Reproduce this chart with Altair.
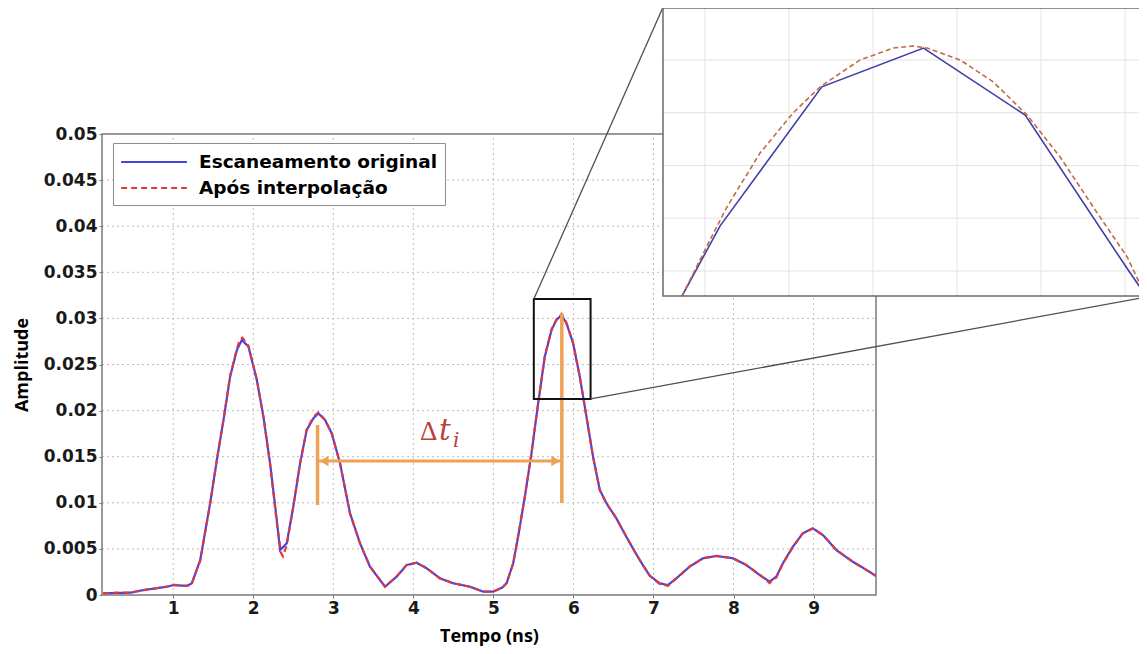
import altair as alt
import pandas as pd

# ---------------- data ----------------
series_names = ["Escaneamento original", "Após interpolação"]

t_orig = [0.126, 0.463, 0.63, 0.921, 1.004, 1.17, 1.233, 1.337, 1.461, 1.545, 1.628, 1.711,
          1.795, 1.857, 1.94, 2.044, 2.127, 2.21, 2.294, 2.335, 2.418, 2.50, 2.585, 2.668,
          2.751, 2.813, 2.897, 2.98, 3.084, 3.209, 3.334, 3.458, 3.646, 3.791, 3.916, 4.04,
          4.166, 4.332, 4.498, 4.706, 4.873, 4.997, 5.11, 5.165, 5.247, 5.309, 5.393, 5.476,
          5.559, 5.642, 5.726, 5.788, 5.851, 5.913, 5.996, 6.079, 6.163, 6.245, 6.329, 6.413,
          6.537, 6.662, 6.78, 6.87, 6.953, 7.077, 7.181, 7.286, 7.452, 7.618, 7.785, 7.993,
          8.16, 8.326, 8.45, 8.534, 8.617, 8.741, 8.866, 8.991, 9.116, 9.283, 9.49, 9.699, 9.775]
a_orig = [0.0002, 0.00025, 0.00054, 0.0009, 0.00108, 0.00098, 0.00127, 0.0038, 0.00994, 0.01464,
          0.01898, 0.02368, 0.02657, 0.02766, 0.02693, 0.02332, 0.01934, 0.01428, 0.00813, 0.00488,
          0.0056, 0.00958, 0.01428, 0.0179, 0.01916, 0.0197, 0.01898, 0.01754, 0.01428, 0.00886,
          0.0056, 0.00307, 0.0009, 0.00199, 0.00325, 0.0035, 0.0029, 0.00181, 0.00127, 0.0009,
          0.00036, 0.00036, 0.0008, 0.00127, 0.00344, 0.00633, 0.01066, 0.01537, 0.02079, 0.02585,
          0.02874, 0.02983, 0.03037, 0.02947, 0.0273, 0.02368, 0.01934, 0.015, 0.01139, 0.00995,
          0.0083, 0.0063, 0.0045, 0.0032, 0.0021, 0.00127, 0.00108, 0.00181, 0.00307, 0.00398,
          0.00423, 0.00398, 0.00325, 0.00217, 0.00145, 0.00199, 0.00344, 0.00524, 0.00669, 0.00723,
          0.00651, 0.00488, 0.00361, 0.00253, 0.00206]

t_interp = [0.126, 0.463, 0.63, 0.921, 1.004, 1.17, 1.233, 1.337, 1.461, 1.545, 1.628, 1.711,
            1.795, 1.83, 1.862, 1.90, 1.94, 2.044, 2.127, 2.21, 2.294, 2.345, 2.37, 2.418, 2.50,
            2.585, 2.668, 2.751, 2.813, 2.897, 2.98, 3.084, 3.209, 3.334, 3.458, 3.646, 3.791,
            3.916, 4.04, 4.166, 4.332, 4.498, 4.706, 4.873, 4.997, 5.11, 5.165, 5.247, 5.309,
            5.393, 5.476, 5.559, 5.642, 5.726, 5.788, 5.851, 5.913, 5.996, 6.079, 6.163, 6.245,
            6.329, 6.413, 6.537, 6.662, 6.78, 6.87, 6.953, 7.077, 7.181, 7.286, 7.452, 7.618,
            7.785, 7.993, 8.16, 8.326, 8.45, 8.534, 8.617, 8.741, 8.866, 8.991, 9.116, 9.283,
            9.49, 9.699, 9.775]
a_interp = [0.0002, 0.00027, 0.00052, 0.0009, 0.0011, 0.001, 0.0013, 0.0037, 0.0099, 0.0147,
            0.0190, 0.0238, 0.0267, 0.0276, 0.0279, 0.0275, 0.0270, 0.0234, 0.0193, 0.0142,
            0.0078, 0.0046, 0.0042, 0.0054, 0.0096, 0.0143, 0.0180, 0.0193, 0.0198, 0.0190,
            0.0175, 0.0143, 0.0088, 0.0056, 0.0031, 0.0009, 0.0020, 0.00325, 0.0035, 0.0029,
            0.0018, 0.00127, 0.0009, 0.00036, 0.00036, 0.0008, 0.0013, 0.0034, 0.0064, 0.0107,
            0.0154, 0.0208, 0.0259, 0.0288, 0.0299, 0.0305, 0.0295, 0.0273, 0.0237, 0.0193,
            0.0150, 0.0114, 0.0099, 0.0083, 0.0063, 0.0045, 0.0032, 0.0021, 0.0012, 0.0010,
            0.0018, 0.0031, 0.0040, 0.00425, 0.0040, 0.00325, 0.0022, 0.0013, 0.0019, 0.0034,
            0.0052, 0.0067, 0.0072, 0.0065, 0.0049, 0.0036, 0.0025, 0.0021]

# inset (zoom on the second peak)
inset_t_orig = [5.5726, 5.618, 5.739, 5.860, 5.981, 6.102, 6.124]
inset_a_orig = [0.02105, 0.02371, 0.02898, 0.03045, 0.02791, 0.02211, 0.02109]
inset_t_interp = [5.5726, 5.6060, 5.6262, 5.6655, 5.7048, 5.7369, 5.7845, 5.8238, 5.8476,
                  5.8643, 5.9036, 5.9429, 5.9833, 6.0226, 6.0619, 6.1024, 6.1238]
inset_a_interp = [0.02105, 0.02318, 0.02443, 0.02647, 0.02799, 0.02898, 0.03000, 0.03045,
                  0.03053, 0.03045, 0.03000, 0.02917, 0.02791, 0.02632, 0.02443, 0.02253, 0.02109]

x_ticks = [1, 2, 3, 4, 5, 6, 7, 8, 9]
y_ticks = [0, 0.005, 0.01, 0.015, 0.02, 0.025, 0.03, 0.035, 0.04, 0.045, 0.05]
x_domain = [0.11, 9.78]
y_domain = [0, 0.05]
inset_x_domain = [5.55, 6.126]
inset_y_domain = [0.02105, 0.03197]
inset_x_grid = [5.6, 5.7, 5.8, 5.9, 6.0, 6.1]
inset_y_grid = [0.022, 0.024, 0.026, 0.028, 0.030]

# annotations in data units
dt_t = [2.803, 5.855]          # Δt start / end
dt_arrow_a = 0.01453
dt_left_a = [0.00976, 0.01844]
dt_right_a = [0.00998, 0.03059]
arrowhead_t = [2.884, 5.780]
arrowhead_shape = ["triangle-left", "triangle-right"]
label_t = [4.082, 4.320, 4.496]
label_a = [0.01681, 0.01681, 0.01606]
zoom_box_t = [5.505, 6.214]
zoom_box_a = [0.02126, 0.0321]
conn_from_t = [5.505, 6.214]
conn_from_a = [0.0321, 0.02126]
conn_to_t = [7.115, 13.156]
conn_to_a = [0.06367, 0.03232]

# ---------------- styling ----------------
BLUE = "#4343E8"
RED = "#E0383A"
ORANGE = "#F0A254"
DT_COLOR = "#B8413A"
TICK_FONT = "DejaVu Sans"
TEXT_FONT = "Open Sans"

W, H = 1037, 587
xs = alt.Scale(domain=x_domain, range=[0, 774], zero=False, nice=False)
ys = alt.Scale(domain=y_domain, range=[587, 126], zero=False, nice=False)
ixs = alt.Scale(domain=inset_x_domain, range=[561, 1045], zero=False, nice=False)
iys = alt.Scale(domain=inset_y_domain, range=[288, 0], zero=False, nice=False)

AX_X = alt.Axis(values=x_ticks, format="d", domain=False, grid=False, ticks=True,
                tickSize=3, tickColor="#7a7a7a", labelPadding=2, labelFlush=False,
                labelFont=TICK_FONT, labelFontWeight="bold", labelFontSize=17,
                labelColor="#1a1a1a", titleFont=TEXT_FONT, titleFontWeight="bold",
                titleFontSize=18, titleColor="black", titlePadding=11)
AX_Y = alt.Axis(values=y_ticks, format="~g", domain=False, grid=False, ticks=True,
                tickSize=3, tickColor="#7a7a7a", labelPadding=2, labelFlush=False,
                labelFont=TICK_FONT, labelFontWeight="bold", labelFontSize=17,
                labelColor="#1a1a1a", titleFont=TEXT_FONT, titleFontWeight="bold",
                titleFontSize=18, titleColor="black", titlePadding=12)


def X(f):
    return alt.X(f, scale=xs, axis=AX_X, title="Tempo (ns)")


def Y(f):
    return alt.Y(f, scale=ys, axis=AX_Y, title="Amplitude")


def IX(f):
    return alt.X(f, scale=ixs, axis=None)


def IY(f):
    return alt.Y(f, scale=iys, axis=None)


# ---------------- main plot ----------------
grid_x = alt.Chart(pd.DataFrame({"t": x_ticks, "a0": [y_domain[0]] * len(x_ticks),
                                 "a1": [y_domain[1]] * len(x_ticks)})).mark_rule(
    color="#bdbdbd", strokeWidth=1, strokeDash=[2, 3]).encode(x=X("t:Q"), y=Y("a0:Q"), y2="a1:Q")

grid_y = alt.Chart(pd.DataFrame({"a": y_ticks[1:-1], "t0": [x_domain[0]] * (len(y_ticks) - 2),
                                 "t1": [x_domain[1]] * (len(y_ticks) - 2)})).mark_rule(
    color="#bdbdbd", strokeWidth=1, strokeDash=[2, 3]).encode(y=Y("a:Q"), x=X("t0:Q"), x2="t1:Q")

frame = alt.Chart(pd.DataFrame({"t0": [x_domain[0]], "t1": [x_domain[1]],
                                "a0": [y_domain[0]], "a1": [y_domain[1]]})).mark_rect(
    fill="white", fillOpacity=0, stroke="#7a7a7a", strokeWidth=1.5).encode(
    x=X("t0:Q"), x2="t1:Q", y=Y("a0:Q"), y2="a1:Q")

legend = alt.Legend(title=None, orient="none", legendX=11, legendY=135, fillColor="white",
                    strokeColor="#8c8c8c", padding=7, labelFont="DejaVu Sans",
                    labelFontWeight="bold", labelFontSize=18.5, labelColor="black", labelLimit=500,
                    symbolType="M-3,0H3", symbolSize=480, symbolStrokeWidth=2,
                    symbolOffset=22, labelOffset=33, rowPadding=4)
color_scale = alt.Scale(domain=series_names, range=[BLUE, RED])
dash_scale = alt.Scale(domain=series_names, range=[[1, 0], [6, 4]])

df_orig = pd.DataFrame({"t": t_orig, "a": a_orig, "serie": series_names[0]})
df_interp = pd.DataFrame({"t": t_interp, "a": a_interp, "serie": series_names[1]})

line_orig = alt.Chart(df_orig).mark_line(strokeWidth=2.2).encode(
    x=X("t:Q"), y=Y("a:Q"),
    color=alt.Color("serie:N", scale=color_scale, legend=legend),
    strokeDash=alt.StrokeDash("serie:N", scale=dash_scale, legend=legend))
line_interp = alt.Chart(df_interp).mark_line(strokeWidth=2.2).encode(
    x=X("t:Q"), y=Y("a:Q"),
    color=alt.Color("serie:N", scale=color_scale, legend=legend),
    strokeDash=alt.StrokeDash("serie:N", scale=dash_scale, legend=legend))

# Δt annotation
marks_v = alt.Chart(pd.DataFrame({"t": dt_t, "a0": [dt_left_a[0], dt_right_a[0]],
                                  "a1": [dt_left_a[1], dt_right_a[1]]})).mark_rule(
    color=ORANGE, strokeWidth=3.5).encode(x=X("t:Q"), y=Y("a0:Q"), y2="a1:Q")
arrow_h = alt.Chart(pd.DataFrame({"t0": [dt_t[0]], "t1": [dt_t[1]], "a": [dt_arrow_a]})).mark_rule(
    color=ORANGE, strokeWidth=3).encode(x=X("t0:Q"), x2="t1:Q", y=Y("a:Q"))
heads = alt.Chart(pd.DataFrame({"t": arrowhead_t, "a": [dt_arrow_a] * 2,
                                "shape": arrowhead_shape})).mark_point(
    filled=True, size=110, color=ORANGE, opacity=1).encode(
    x=X("t:Q"), y=Y("a:Q"),
    shape=alt.Shape("shape:N", scale=alt.Scale(domain=arrowhead_shape, range=arrowhead_shape),
                    legend=None))
txt_delta = alt.Chart(pd.DataFrame({"t": [label_t[0]], "a": [label_a[0]], "s": ["Δ"]})).mark_text(
    align="left", baseline="alphabetic", font="Liberation Serif", fontSize=27, color=DT_COLOR).encode(
    x=X("t:Q"), y=Y("a:Q"), text="s:N")
txt_t = alt.Chart(pd.DataFrame({"t": [label_t[1]], "a": [label_a[1]], "s": ["t"]})).mark_text(
    align="left", baseline="alphabetic", font="DejaVu Serif", fontStyle="italic", fontSize=29,
    color=DT_COLOR).encode(x=X("t:Q"), y=Y("a:Q"), text="s:N")
txt_i = alt.Chart(pd.DataFrame({"t": [label_t[2]], "a": [label_a[2]], "s": ["i"]})).mark_text(
    align="left", baseline="alphabetic", font="DejaVu Serif", fontStyle="italic", fontSize=20,
    color=DT_COLOR).encode(x=X("t:Q"), y=Y("a:Q"), text="s:N")

# zoom box and connectors
zoom_box = alt.Chart(pd.DataFrame({"t0": [zoom_box_t[0]], "t1": [zoom_box_t[1]],
                                   "a0": [zoom_box_a[0]], "a1": [zoom_box_a[1]]})).mark_rect(
    fill="white", fillOpacity=0, stroke="#111111", strokeWidth=2).encode(
    x=X("t0:Q"), x2="t1:Q", y=Y("a0:Q"), y2="a1:Q")
connectors = alt.Chart(pd.DataFrame({"t0": conn_from_t, "a0": conn_from_a,
                                     "t1": conn_to_t, "a1": conn_to_a})).mark_rule(
    color="#505050", strokeWidth=1.3).encode(x=X("t0:Q"), y=Y("a0:Q"), x2="t1:Q", y2="a1:Q")

main = alt.layer(grid_x, grid_y, frame, line_orig, line_interp, marks_v, arrow_h, heads,
                 txt_delta, txt_t, txt_i, zoom_box, connectors)

# ---------------- inset ----------------
inset_bg = alt.Chart(pd.DataFrame({"t0": [inset_x_domain[0]], "t1": [inset_x_domain[1]],
                                   "a0": [inset_y_domain[0]], "a1": [inset_y_domain[1]]})).mark_rect(
    fill="white").encode(x=IX("t0:Q"), x2="t1:Q", y=IY("a0:Q"), y2="a1:Q")
inset_gx = alt.Chart(pd.DataFrame({"t": inset_x_grid, "a0": [inset_y_domain[0]] * len(inset_x_grid),
                                   "a1": [inset_y_domain[1]] * len(inset_x_grid)})).mark_rule(
    color="#e2e2e2", strokeWidth=1).encode(x=IX("t:Q"), y=IY("a0:Q"), y2="a1:Q")
inset_gy = alt.Chart(pd.DataFrame({"a": inset_y_grid, "t0": [inset_x_domain[0]] * len(inset_y_grid),
                                   "t1": [inset_x_domain[1]] * len(inset_y_grid)})).mark_rule(
    color="#e2e2e2", strokeWidth=1).encode(y=IY("a:Q"), x=IX("t0:Q"), x2="t1:Q")
inset_orig = alt.Chart(pd.DataFrame({"t": inset_t_orig, "a": inset_a_orig})).mark_line(
    color="#3F3FA8", strokeWidth=1.6).encode(x=IX("t:Q"), y=IY("a:Q"))
inset_interp = alt.Chart(pd.DataFrame({"t": inset_t_interp, "a": inset_a_interp})).mark_line(
    color="#C46A48", strokeWidth=1.6, strokeDash=[5, 3]).encode(x=IX("t:Q"), y=IY("a:Q"))
inset_frame = alt.Chart(pd.DataFrame({"t0": [inset_x_domain[0]], "t1": [inset_x_domain[1]],
                                      "a0": [inset_y_domain[0]], "a1": [inset_y_domain[1]]})).mark_rect(
    fill="white", fillOpacity=0, stroke="#6a6a6a", strokeWidth=1.5).encode(
    x=IX("t0:Q"), x2="t1:Q", y=IY("a0:Q"), y2="a1:Q")

inset = alt.layer(inset_bg, inset_gx, inset_gy, inset_orig, inset_interp, inset_frame)

chart = alt.layer(main, inset).resolve_scale(x="independent", y="independent").properties(
    width=W, height=H,
    autosize=alt.AutoSizeParams(type="none"),
    padding={"left": 94, "top": 0, "right": 0, "bottom": 51},
    background="white",
).configure_view(stroke=None)

chart.save("out.html", embed_options={"renderer": "svg", "actions": False})
